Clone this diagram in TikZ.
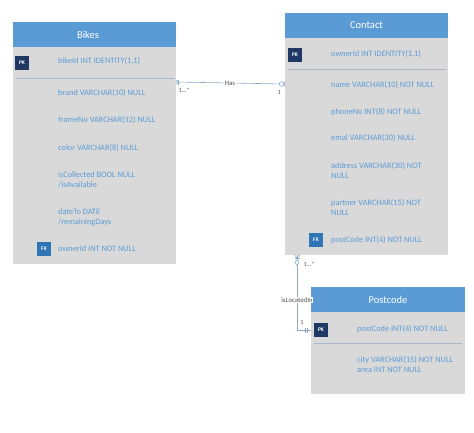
\documentclass[tikz,border=0pt]{standalone}
\usepackage{fontspec}
\setmainfont{Carlito}
\definecolor{hdr}{HTML}{5B9BD5}
\definecolor{bodyg}{HTML}{D9D9D9}
\definecolor{txt}{HTML}{5B9BD5}
\definecolor{pkc}{HTML}{1F3864}
\definecolor{fkc}{HTML}{2E75B6}
\definecolor{sepc}{HTML}{A9B9CC}
\definecolor{conn}{HTML}{8EA9C8}
\begin{document}
\begin{tikzpicture}[x=1pt,y=-1pt,
  title/.style={text=white,font=\fontsize{10.5}{12}\selectfont},
  field/.style={anchor=west,align=left,text=txt,inner sep=0pt,font=\fontsize{8.3}{10}\selectfont},
  badge/.style={minimum width=14pt,minimum height=14pt,inner sep=0pt,text=white,font=\fontsize{5.5}{6}\selectfont\bfseries},
  sep/.style={draw=sepc,line width=0.8pt},
  link/.style={draw=conn,line width=0.6pt},
  lab/.style={font=\fontsize{6.2}{7}\selectfont,text=black!70,inner sep=0.5pt},
  rlab/.style={fill=white,font=\fontsize{6.8}{7}\selectfont,text=black!70,inner sep=0.5pt}
]
\useasboundingbox (0,0) rectangle (474,432);
% ---------- Bikes ----------
\fill[bodyg] (13,47) rectangle (176,264);
\fill[hdr] (13,22) rectangle (176,47);
\node[title] (bt) at (88,34.5) {Bikes};
\node[badge,fill=pkc] (bpk) at (22,62.5) {PK};
\node[field] (b1) at (58,61.5) {bikeId INT IDENTITY(1,1)};
\draw[sep] (16,78) -- (174,78);
\node[field] (b2) at (58,93) {brand VARCHAR(10) NULL};
\node[field] (b3) at (58,120) {frameNo VARCHAR(12) NULL};
\node[field] (b4) at (58,148) {color VARCHAR(8) NULL};
\node[field] (b5) at (58,180) {isCollected BOOL NULL\\/isAvailable};
\node[field] (b6) at (58,217) {dateTo DATE\\/remainingDays};
\node[badge,fill=fkc] (bfk) at (44,249) {FK};
\node[field] (b7) at (58,249) {ownerId INT NOT NULL};
\coordinate (bR) at (176,82);
% ---------- Contact ----------
\fill[bodyg] (285,38) rectangle (448,255);
\fill[hdr] (285,13) rectangle (448,38);
\node[title] (ct) at (366.5,25.5) {Contact};
\node[badge,fill=pkc] (cpk) at (295,55) {PK};
\node[field] (c1) at (331,54) {ownerId INT IDENTITY(1,1)};
\draw[sep] (288,69) -- (446,69);
\node[field] (c2) at (331,85) {name VARCHAR(10) NOT NULL};
\node[field] (c3) at (331,112) {phoneNo INT(8) NOT NULL};
\node[field] (c4) at (331,138) {emal VARCHAR(30) NULL};
\node[field] (c5) at (331,170) {address VARCHAR(30) NOT\\NULL};
\node[field] (c6) at (331,207.5) {partner VARCHAR(15) NOT\\NULL};
\node[badge,fill=fkc] (cfk) at (316,240) {FK};
\node[field] (c7) at (331,240) {postCode INT(4) NOT NULL};
\coordinate (cL) at (285,84);
\coordinate (cB) at (297,255);
% ---------- Postcode ----------
\fill[bodyg] (311,312) rectangle (465,394);
\fill[hdr] (311,287) rectangle (465,312);
\node[title] (pt) at (388,300) {Postcode};
\node[badge,fill=pkc] (ppk) at (321,330) {PK};
\node[field] (p1) at (357,329) {postCode INT(4) NOT NULL};
\draw[sep] (314,343) -- (462,343);
\node[field] (p2) at (357,364) {city VARCHAR(15) NOT NULL\\area INT NOT NULL};
\coordinate (pL) at (311,330);
% ---------- Has ----------
\draw[link] (bR) -- (cL);
\draw[link] (178.5,79.5) -- (178.5,84.5);
\draw[link] (176,80) -- (179,82) -- (176,84);
\draw[link,fill=white] (281.5,84) circle (2.2);
\draw[link] (283.7,84) -- (285,81.5);
\draw[link] (283.7,84) -- (285,86.5);
\node[rlab] (has) at (230,83) {Has};
\node[lab,anchor=west] (m1) at (178,90.5) {1...*};
\node[lab] (o1) at (279.5,92) {1};
% ---------- isLocatedIn ----------
\coordinate (corner) at (297,330);
\draw[link] (cB) -- (corner) -- (pL);
\draw[link] (294.5,255) -- (297,258) -- (299.5,255);
\draw[link] (294.5,258.5) -- (299.5,258.5);
\draw[link,fill=white] (297,262.5) circle (2);
\draw[link] (305,327.5) -- (305,332.5);
\draw[link] (307.5,327.5) -- (307.5,332.5);
\node[rlab] (loc) at (297,300) {isLocatedIn};
\node[lab,anchor=west] (m2) at (303,264.5) {1...*};
\node[lab] (o2) at (302,322) {1};
\end{tikzpicture}
\end{document}
